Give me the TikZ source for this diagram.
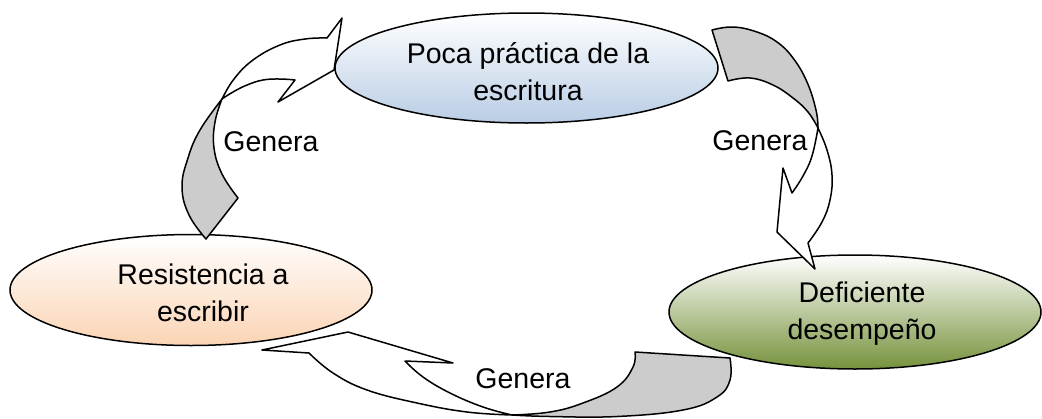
\documentclass[tikz,border=0pt]{standalone}
\usepackage{fontspec}
\setmainfont{Liberation Sans}
\usetikzlibrary{shapes.geometric}
\definecolor{blueb}{HTML}{B9CDE5}
\definecolor{peach}{HTML}{FBD4B4}
\definecolor{olivegr}{HTML}{76923C}
\definecolor{arrgray}{HTML}{CCCCCC}
\begin{document}
\begin{tikzpicture}[x=1pt,y=-1pt,
  ell/.style={ellipse, draw=black, line width=1.5pt, inner sep=0pt},
  shapeline/.style={draw=black, line width=1.5pt, line join=round},
  txt/.style={font=\fontsize{28.5}{37}\selectfont, align=center, inner sep=0pt},
  lab/.style={font=\fontsize{28.5}{37}\selectfont, inner sep=0pt}]
\useasboundingbox (0,0) rectangle (1042,418);
% ellipses
\node[ell, minimum width=383pt, minimum height=110pt, top color=white, bottom color=blueb] (etop) at (526.5,68) {};
\node[ell, minimum width=362pt, minimum height=111pt, top color=white, bottom color=peach] (eleft) at (191,290) {};
\node[ell, minimum width=372pt, minimum height=114pt, top color=white, bottom color=olivegr] (eright) at (855,312) {};
% left arrow
\filldraw[shapeline, fill=arrgray] (206,239) -- (238,198)
  -- plot[smooth, tension=0.7] coordinates {(238,198) (222,174) (214,148) (215,122) (222,99)}
  -- plot[smooth, tension=0.7] coordinates {(222,99) (200,130) (188,158) (182,187) (189,215) (206,239)} -- cycle;
\filldraw[shapeline, fill=white] (222,99)
  -- plot[smooth, tension=0.7] coordinates {(222,99) (234,79) (253,60) (280,45) (305,39) (327,38)}
  -- (342,18) -- (334,70) -- (278,102) -- (295,80)
  -- plot[smooth, tension=0.7] coordinates {(295,80) (280,79) (263,80) (247,85) (233,92) (222,99)} -- cycle;
% right arrow
\filldraw[shapeline, fill=arrgray] (712,30) -- (728,81)
  -- plot[smooth, tension=0.7] coordinates {(728,81) (750,78) (773,85) (793,98) (808,112) (818,128)}
  -- plot[smooth, tension=0.7] coordinates {(818,128) (816,110) (807,82) (793,58) (777,42) (757,32) (733,27) (712,30)} -- cycle;
\filldraw[shapeline, fill=white] (818,128)
  -- plot[smooth, tension=0.7] coordinates {(818,128) (827,150) (832,175) (830,200) (822,222) (808,243)}
  -- (815,269) -- (777,232) -- (783,168) -- (792,193)
  -- plot[smooth, tension=0.7] coordinates {(792,193) (803,176) (812,156) (818,128)} -- cycle;
% bottom arrow
\filldraw[shapeline, fill=arrgray] (635,352) -- (730,358)
  -- plot[smooth, tension=0.7] coordinates {(730,358) (730,380) (717,397) (683,410) (617,416.5) (550,416.5) (512,415)}
  -- plot[smooth, tension=0.7] coordinates {(512,415) (550,412) (583,403) (617,387) (633,367) (635,352)} -- cycle;
\filldraw[shapeline, fill=white] (512,415)
  -- plot[smooth, tension=0.7] coordinates {(512,415) (467,412) (417,403) (367,390) (333,373) (309,353)}
  -- (262,350) -- (348,332) -- (453,363) -- (405,361)
  -- plot[smooth, tension=0.7] coordinates {(405,361) (423,377) (450,393) (483,407) (512,415)} -- cycle;
% texts
\node[txt] (ttop) at (528,72) {Poca práctica de la\\escritura};
\node[txt] (tleft) at (203,293) {Resistencia a\\escribir};
\node[txt] (tright) at (862,314) {Deficiente\\desempeño};
\node[lab] (gleft) at (271,142) {Genera};
\node[lab] (gright) at (760,141) {Genera};
\node[lab] (gbottom) at (523,379) {Genera};
\end{tikzpicture}
\end{document}
